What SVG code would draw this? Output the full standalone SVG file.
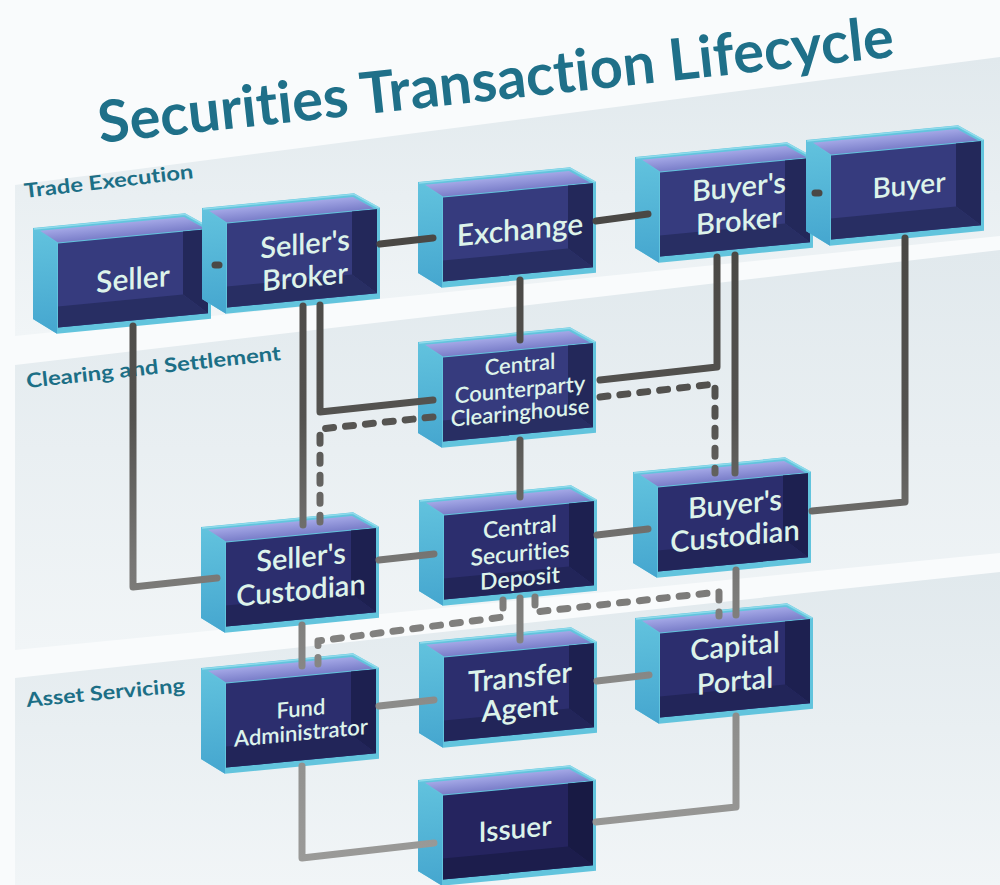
<svg xmlns="http://www.w3.org/2000/svg" xmlns:xlink="http://www.w3.org/1999/xlink" width="1000" height="885" viewBox="0 0 1000 885">
<defs>
<linearGradient id="bandG" x1="0" y1="0" x2="0" y2="1">
<stop offset="0" stop-color="#e1e9ed"/>
<stop offset="1" stop-color="#f1f5f7"/>
</linearGradient>
<linearGradient id="sideG" x1="0" y1="0" x2="0" y2="1">
<stop offset="0" stop-color="#62c3de"/>
<stop offset="1" stop-color="#45a6cf"/>
</linearGradient>
<linearGradient id="lidG" x1="0" y1="0" x2="0" y2="1">
<stop offset="0" stop-color="#a3a7e6"/>
<stop offset="1" stop-color="#7a7ec9"/>
</linearGradient>
<linearGradient id="lineG" gradientUnits="userSpaceOnUse" x1="0" y1="200" x2="0" y2="880">
<stop offset="0.07" stop-color="#4a4845"/>
<stop offset="0.32" stop-color="#545350"/>
<stop offset="0.53" stop-color="#777674"/>
<stop offset="0.74" stop-color="#8c8c8a"/>
<stop offset="0.97" stop-color="#9a9a98"/>
</linearGradient>
<style>
.band{fill:url(#bandG)}
.rim{fill:#62c4dd}
.side{fill:url(#sideG)}
.lid{fill:url(#lidG)}
.edge{fill:none;stroke:#8edbeb;stroke-width:1.5}
.wall{fill:var(--wall)}
.rwall{fill:var(--rwall)}
.floor{fill:var(--floor)}
.n1{--wall:#363b7e;--rwall:#23285a;--floor:#282e63}
.n2{--wall:#2c2e6e;--rwall:#1d2050;--floor:#222559}
.n3{--wall:#25245f;--rwall:#181a44;--floor:#1c1d4c}
text{font-variant-ligatures:none;font-feature-settings:"liga" 0,"clig" 0}
.lbl{font-family:Lato,"Open Sans","Liberation Sans",sans-serif;font-weight:600;fill:#ddf3ea;text-anchor:middle}
.sec{font-family:Lato,"Open Sans","Liberation Sans",sans-serif;font-weight:700;fill:#1c6f86;font-size:20px}
.title{font-family:Lato,"Open Sans","Liberation Sans",sans-serif;font-weight:700;fill:#1f7089;font-size:58px}
.c{fill:none;stroke:url(#lineG);stroke-width:7;stroke-linecap:round;stroke-linejoin:round}
.d{stroke-dasharray:8 12}
</style>
<g id="box">
<polygon class="rim" points="0,0 152,0 178,17 178,108 24,108 0,91"/>
<polygon class="side" points="0,0 24,17 24,108 0,91"/>
<polygon class="lid" points="7,3.5 151,3.5 172,17 25,17"/>
<polyline class="edge" points="1,1 152,1 177,17"/>
<rect class="wall" x="25" y="18" width="150" height="84"/>
<polygon class="rwall" points="150,18 175,18 175,102 150,81"/>
<polygon class="floor" points="25,81 150,81 175,102 25,102"/>
</g>
</defs>

<g id="background">
<rect width="1000" height="885" fill="#f9fbfc"/>
<polygon class="band" points="15,185 1000,57 1000,236 15,336"/>
<polygon class="band" points="15,365 1000,250 1000,553 15,650"/>
<polygon class="band" points="15,678 1000,572 1000,885 15,885"/>
</g>

<g id="labels">
<text class="title" x="100" y="143" transform="rotate(-6.2 100 143)" textLength="800" lengthAdjust="spacingAndGlyphs">Securities Transaction Lifecycle</text>
<text class="sec" x="25" y="198" transform="rotate(-6.7 25 198)" textLength="170" lengthAdjust="spacingAndGlyphs">Trade Execution</text>
<text class="sec" x="27" y="388" transform="rotate(-6.3 27 388)" textLength="256" lengthAdjust="spacingAndGlyphs">Clearing and Settlement</text>
<text class="sec" x="27" y="707" transform="rotate(-5.4 27 707)" textLength="159" lengthAdjust="spacingAndGlyphs">Asset Servicing</text>
</g>

<g id="nodes">
<g id="seller" class="n1" transform="translate(33,228) skewY(-5.5)">
<use xlink:href="#box" href="#box"/>
<text class="lbl" x="100" y="71" font-size="30">Seller</text>
</g>
<g id="sellers-broker" class="n1" transform="translate(202,208) skewY(-5.5)">
<use xlink:href="#box" href="#box"/>
<text class="lbl" x="103" y="56" font-size="29">Seller's</text>
<text class="lbl" x="103" y="89" font-size="29">Broker</text>
</g>
<g id="exchange" class="n1" transform="translate(418,182) skewY(-5.5)">
<use xlink:href="#box" href="#box"/>
<text class="lbl" x="102" y="68" font-size="30">Exchange</text>
</g>
<g id="buyers-broker" class="n1" transform="translate(635,157) skewY(-5.5)">
<use xlink:href="#box" href="#box"/>
<text class="lbl" x="104" y="50" font-size="29">Buyer's</text>
<text class="lbl" x="104" y="84" font-size="29">Broker</text>
</g>
<g id="buyer" class="n1" transform="translate(806,140) skewY(-5.5)">
<use xlink:href="#box" href="#box"/>
<text class="lbl" x="103" y="65" font-size="28">Buyer</text>
</g>
<g id="ccp" class="n1" transform="translate(418,342) skewY(-5.5)">
<use xlink:href="#box" href="#box"/>
<text class="lbl" x="102" y="40" font-size="22">Central</text>
<text class="lbl" x="102" y="65" font-size="22">Counterparty</text>
<text class="lbl" x="102" y="88" font-size="22">Clearinghouse</text>
</g>
<g id="sellers-custodian" class="n2" transform="translate(201,527) skewY(-5.5)">
<use xlink:href="#box" href="#box"/>
<text class="lbl" x="100" y="50" font-size="29">Seller's</text>
<text class="lbl" x="100" y="83" font-size="29">Custodian</text>
</g>
<g id="csd" class="n2" transform="translate(419,500) skewY(-5.5)">
<use xlink:href="#box" href="#box"/>
<text class="lbl" x="101" y="45" font-size="23">Central</text>
<text class="lbl" x="101" y="71" font-size="23">Securities</text>
<text class="lbl" x="101" y="96" font-size="23">Deposit</text>
</g>
<g id="buyers-custodian" class="n2" transform="translate(633,472) skewY(-5.5)">
<use xlink:href="#box" href="#box"/>
<text class="lbl" x="102" y="52" font-size="29">Buyer's</text>
<text class="lbl" x="102" y="84" font-size="29">Custodian</text>
</g>
<g id="fund-administrator" class="n2" transform="translate(201,668) skewY(-5.5)">
<use xlink:href="#box" href="#box"/>
<text class="lbl" x="100" y="58" font-size="22">Fund</text>
<text class="lbl" x="100" y="82" font-size="22">Administrator</text>
</g>
<g id="transfer-agent" class="n2" transform="translate(419,642) skewY(-5.5)">
<use xlink:href="#box" href="#box"/>
<text class="lbl" x="101" y="55" font-size="29">Transfer</text>
<text class="lbl" x="101" y="86" font-size="29">Agent</text>
</g>
<g id="capital-portal" class="n2" transform="translate(635,618) skewY(-5.5)">
<use xlink:href="#box" href="#box"/>
<text class="lbl" x="100" y="48" font-size="29">Capital</text>
<text class="lbl" x="100" y="83" font-size="29">Portal</text>
</g>
<g id="issuer" class="n3" transform="translate(418,780) skewY(-5.5)">
<use xlink:href="#box" href="#box"/>
<text class="lbl" x="97" y="68" font-size="28">Issuer</text>
</g>
</g>

<g id="connectors">
<path class="c" d="M380,244 L433,238"/>
<path class="c" d="M596,221 L648,214"/>
<path class="c" d="M215,265 L219,265"/>
<path class="c" d="M815,193 L819,193"/>
<path class="c" d="M133,326 V587 L217,578"/>
<path class="c" d="M303,306 V525"/>
<path class="c" d="M320,305 V412 L433,400"/>
<path class="c" d="M520,280 V340"/>
<path class="c" d="M717,257 V367 L600,380"/>
<path class="c" d="M735,255 V473"/>
<path class="c" d="M905,238 V502 L812,511"/>
<path class="c" d="M520,440 V497"/>
<path class="c d" d="M433,417 L320,429 V522"/>
<path class="c d" d="M600,397 L715,384 V473"/>
<path class="c" d="M379,560 L434,554"/>
<path class="c" d="M597,535 L648,529"/>
<path class="c" d="M302,625 V666"/>
<path class="c" d="M736,570 V615"/>
<path class="c" d="M520,598 V640"/>
<path class="c d" d="M503,600 V617 L318,641 V664"/>
<path class="c d" d="M535,597 V612 L719,592 V616"/>
<path class="c" d="M379,706 L434,700"/>
<path class="c" d="M597,681 L649,675"/>
<path class="c" d="M302,766 V858 L434,843"/>
<path class="c" d="M736,716 V807 L596,822"/>
</g>
</svg>
